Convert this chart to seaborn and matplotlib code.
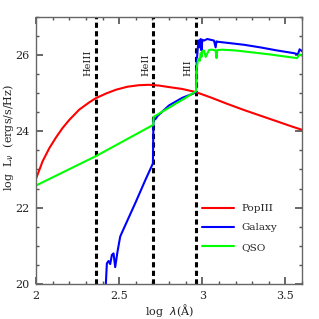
import numpy as np
import pandas as pd
import matplotlib
matplotlib.use("Agg")
import matplotlib.pyplot as plt
from matplotlib.ticker import MultipleLocator
import seaborn as sns

# values
popiii_x = [2.00, 2.04, 2.08, 2.12, 2.16, 2.20, 2.26, 2.32, 2.36, 2.42, 2.48, 2.55,
            2.62, 2.68, 2.74, 2.80, 2.88, 2.96, 3.05, 3.15, 3.25, 3.35, 3.45, 3.55, 3.60]
popiii_y = [22.76, 23.22, 23.56, 23.84, 24.09, 24.30, 24.57, 24.76, 24.87, 24.99, 25.09, 25.17,
            25.21, 25.22, 25.20, 25.16, 25.11, 25.03, 24.89, 24.72, 24.56, 24.41, 24.26, 24.11, 24.04]

galaxy_x = [2.414, 2.426, 2.436, 2.446, 2.456, 2.466, 2.476, 2.49, 2.506, 2.516, 2.60, 2.657,
            2.703, 2.706, 2.72, 2.73, 2.80, 2.88, 2.94, 2.962, 2.966, 2.972, 2.978, 2.985,
            2.99, 2.995, 3.00, 3.01, 3.03, 3.05, 3.07, 3.08, 3.085, 3.09, 3.15, 3.25, 3.35,
            3.45, 3.55, 3.575, 3.585, 3.60]
galaxy_y = [19.5, 20.54, 20.60, 20.52, 20.76, 20.80, 20.44, 20.85, 21.24, 21.34, 22.15, 22.72,
            23.16, 24.29, 24.33, 24.40, 24.68, 24.88, 24.98, 25.03, 25.80, 26.15, 26.38, 26.20,
            26.42, 26.12, 26.40, 26.38, 26.42, 26.40, 26.38, 26.20, 26.36, 26.35, 26.32, 26.27,
            26.20, 26.12, 26.05, 26.02, 26.15, 26.10]

qso_x = [2.00, 2.36, 2.705, 2.707, 2.80, 2.90, 2.962, 2.966, 2.975, 2.985, 2.99, 2.995, 3.00,
         3.01, 3.02, 3.04, 3.05, 3.06, 3.08, 3.085, 3.09, 3.12, 3.20, 3.30, 3.40, 3.50, 3.57,
         3.585, 3.60]
qso_y = [22.58, 23.35, 24.17, 24.38, 24.62, 24.88, 25.05, 25.65, 25.90, 25.85, 26.05, 25.95, 26.10,
         26.12, 25.95, 26.13, 26.14, 26.14, 26.12, 25.92, 26.13, 26.14, 26.12, 26.07, 26.02, 25.96,
         25.92, 26.02, 25.98]

edge_x = [2.358, 2.704, 2.960]
edge_labels = ["HeIII", "HeII", "HII"]

df = pd.concat([
    pd.DataFrame({"x": popiii_x, "y": popiii_y, "model": "PopIII"}),
    pd.DataFrame({"x": galaxy_x, "y": galaxy_y, "model": "Galaxy"}),
    pd.DataFrame({"x": qso_x, "y": qso_y, "model": "QSO"}),
])

sns.set_theme(style="ticks")
plt.rcParams["font.family"] = ["DejaVu Serif"]

fig, ax = plt.subplots(figsize=(3.19, 3.19), dpi=100)
fig.subplots_adjust(left=0.113, right=0.947, top=0.947, bottom=0.110)

sns.lineplot(data=df, x="x", y="y", hue="model", sort=False, estimator=None,
             palette={"PopIII": "#ff0000", "Galaxy": "#0000ff", "QSO": "#00ff00"},
             linewidth=1.5, ax=ax)

# ionisation edges
for xe, lab in zip(edge_x, edge_labels):
    ax.axvline(xe, color="black", lw=2.2, linestyle=(0, (1.7, 1.1)), zorder=1)
    ax.text(xe - 0.018, 25.46, lab, rotation=90, ha="right", va="bottom",
            fontsize=7, color="#222222")

ax.set_xlim(2, 3.6)
ax.set_ylim(20, 27)
ax.xaxis.set_major_locator(MultipleLocator(0.5))
ax.xaxis.set_minor_locator(MultipleLocator(0.1))
ax.yaxis.set_major_locator(MultipleLocator(2))
ax.yaxis.set_minor_locator(MultipleLocator(0.5))
ax.xaxis.set_major_formatter(plt.FuncFormatter(lambda v, p: f"{v:g}"))
ax.tick_params(which="both", direction="in", top=True, right=True, colors="#555555",
               labelcolor="#222222", labelsize=8, pad=5)
ax.tick_params(which="major", length=5)
ax.tick_params(which="minor", length=2.5)
for s in ax.spines.values():
    s.set_color("#666666")
    s.set_linewidth(1)

ax.set_xlabel(r"log  $\lambda$(Å)", fontsize=8, color="#222222", labelpad=1)
ax.set_ylabel(r"log  L$_\nu$  (ergs/s/Hz)", fontsize=8, color="#222222")
ax.yaxis.set_label_coords(-0.075, 0.547)

ax.legend(loc="upper left", bbox_to_anchor=(0.607, 0.315), borderaxespad=0,
          frameon=False, fontsize=7.5, handlelength=3.1, handletextpad=0.7,
          labelspacing=0.95)

fig.savefig("out.png", dpi=100)
